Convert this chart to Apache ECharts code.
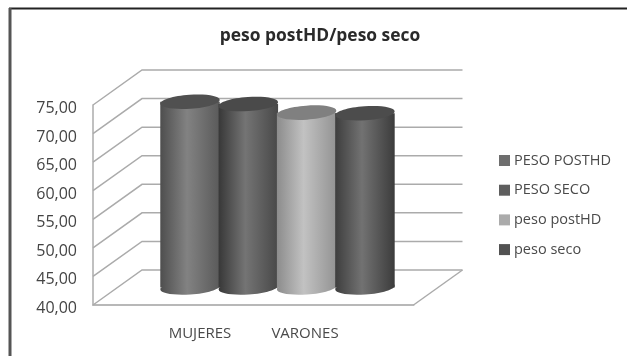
<!DOCTYPE html>
<html>
<head>
<meta charset="utf-8">
<style>html,body{margin:0;padding:0;background:#fff}#c{width:627px;height:356px}</style>
<script src="https://cdn.jsdelivr.net/npm/echarts@6/dist/echarts.min.js"></script>
</head>
<body>
<div id="c"></div>
<script>
const chartTitle = 'peso postHD/peso seco';
const categories = ['MUJERES', 'VARONES'];
const seriesNames = ['PESO POSTHD', 'PESO SECO', 'peso postHD', 'peso seco'];
const seriesValues = [72.5, 72.1, 70.6, 70.5];
const yTicks = [40, 45, 50, 55, 60, 65, 70, 75];

// Shading of each cylinder: side edge, centre, far edge, lid
const shades = [
  ['#4e4e4e', '#828282', '#5a5a5a', '#505050'],
  ['#383838', '#747474', '#484848', '#4a4a4a'],
  ['#8c8c8c', '#c2c2c2', '#939393', '#808080'],
  ['#3e3e3e', '#727272', '#3c3c3c', '#4c4c4c']
];
const legendColors = ['#6e6e6e', '#5e5e5e', '#ababab', '#525252'];

// Oblique projection of the plot box
const DEPTH_X = 49, DEPTH_Y = -35;
const SLOT_MIN = -0.744, SLOT_MAX = 4.753;
const WALL = '#ababab';
const FONT = '"Open Sans"';

function renderWall(params, api) {
  const v = api.value(0);
  const a = api.coord([SLOT_MIN, v]);
  const b = api.coord([SLOT_MAX, v]);
  const children = [{
    type: 'polyline',
    shape: { points: [a, [a[0] + DEPTH_X, a[1] + DEPTH_Y], [b[0] + DEPTH_X, b[1] + DEPTH_Y]] },
    style: { fill: 'none', stroke: WALL, lineWidth: 1.5 }
  }];
  if (v === yTicks[0]) {
    children.push({
      type: 'line',
      shape: { x1: b[0], y1: b[1], x2: b[0] + DEPTH_X, y2: b[1] + DEPTH_Y },
      style: { stroke: WALL, lineWidth: 1.5 }
    });
  }
  return { type: 'group', children };
}

function renderCylinder(params, api) {
  const slot = api.value(0);
  const top = api.coord([slot + 0.5, api.value(1)]);
  const base = api.coord([slot + 0.5, yTicks[0]]);
  const rx = api.size([1, 0])[0] / 2 + 0.6;
  const ry = 7;
  const cx = top[0] + DEPTH_X / 2;
  const yTop = top[1] + DEPTH_Y / 2;
  const yBase = base[1] + DEPTH_Y / 2;
  const s = shades[params.seriesIndex - 1];
  const side = {
    type: 'linear', x: 0, y: 0, x2: 1, y2: 0,
    colorStops: [
      { offset: 0, color: s[0] },
      { offset: 0.45, color: s[1] },
      { offset: 1, color: s[2] }
    ]
  };
  const tilt = 0.07;
  return {
    type: 'group',
    children: [
      { type: 'ellipse', shape: { cx, cy: yBase, rx, ry }, rotation: tilt, originX: cx, originY: yBase, style: { fill: side } },
      { type: 'rect', shape: { x: cx - rx, y: yTop, width: 2 * rx, height: yBase - yTop }, style: { fill: side } },
      { type: 'ellipse', shape: { cx, cy: yTop, rx, ry }, rotation: tilt, originX: cx, originY: yTop, style: { fill: s[3] } }
    ]
  };
}

const chart = echarts.init(document.getElementById('c'));
chart.setOption({
  animation: false,
  backgroundColor: '#ffffff',
  textStyle: { fontFamily: FONT },
  title: {
    text: chartTitle, left: 315, top: 23, textAlign: 'center',
    textStyle: { fontFamily: FONT, fontSize: 17.4, fontWeight: 'bold', color: '#2a2a2a' }
  },
  legend: {
    data: seriesNames, orient: 'vertical', left: 499, top: 153, padding: 0,
    itemWidth: 11, itemHeight: 11, itemGap: 14.7, icon: 'rect',
    textStyle: { fontFamily: FONT, fontSize: 14.5, color: '#4a4a4a', padding: [0, 0, 0, -1] },
    selectedMode: false
  },
  // First grid holds the plot box; second one carries the text of both axes
  grid: [
    { left: 93, top: 105, width: 320.5, height: 200 },
    { left: 147.5, top: 108.5, width: 210, height: 200 }
  ],
  xAxis: [
    {
      type: 'value', gridIndex: 0, min: SLOT_MIN, max: SLOT_MAX,
      axisLine: { show: true, onZero: false, lineStyle: { color: '#b8b8b8', width: 2 } },
      axisTick: { show: false }, axisLabel: { show: false }, splitLine: { show: false }
    },
    {
      type: 'category', gridIndex: 1, data: categories,
      axisLine: { show: false }, axisTick: { show: false }, splitLine: { show: false },
      axisLabel: { margin: 17.5, fontFamily: FONT, fontSize: 15, color: '#4a4a4a' }
    }
  ],
  yAxis: [
    {
      type: 'value', gridIndex: 0, min: 40, max: 75, interval: 5,
      axisLine: { show: true, onZero: false, lineStyle: { color: WALL, width: 1.5 } },
      axisTick: { show: false }, splitLine: { show: false }, axisLabel: { show: false }
    },
    {
      type: 'value', gridIndex: 1, min: 40, max: 75, interval: 5,
      axisLine: { show: false }, axisTick: { show: false }, splitLine: { show: false },
      axisLabel: {
        margin: 70.5, fontFamily: FONT, fontSize: 16, fontWeight: 500, color: '#444444',
        formatter: v => v.toFixed(2).replace('.', ',')
      }
    }
  ],
  graphic: [
    { type: 'line', silent: true, shape: { x1: 9, y1: 8.5, x2: 627, y2: 8.5 }, style: { stroke: '#222222', lineWidth: 2 } },
    { type: 'line', silent: true, shape: { x1: 10, y1: 8, x2: 10, y2: 356 }, style: { stroke: '#555555', lineWidth: 3 } }
  ],
  series: [
    {
      type: 'custom', name: 'walls', xAxisIndex: 0, yAxisIndex: 0, silent: true, clip: false,
      renderItem: renderWall, data: yTicks.map(v => [v]), encode: { y: 0 }
    }
  ].concat(seriesNames.map((name, i) => ({
    type: 'custom', name, xAxisIndex: 0, yAxisIndex: 0, clip: false,
    itemStyle: { color: legendColors[i] },
    renderItem: renderCylinder,
    data: [[i, seriesValues[i]]],
    encode: { x: 0, y: 1 }
  })))
});
</script>
</body>
</html>
